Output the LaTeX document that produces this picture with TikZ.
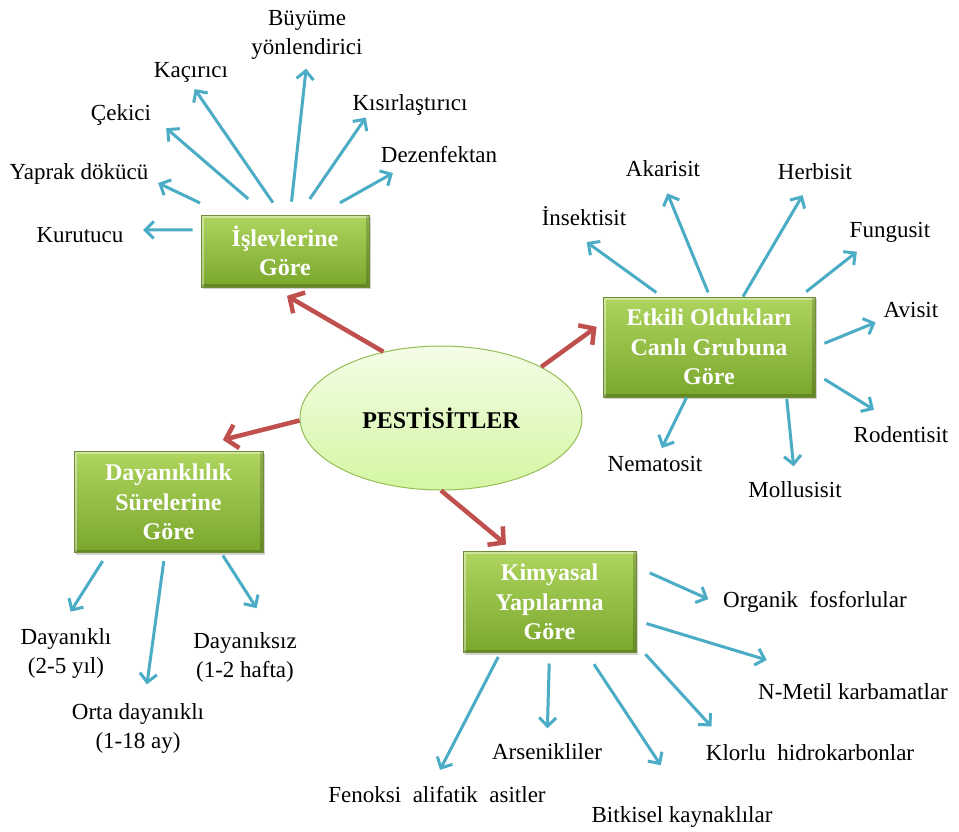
\documentclass[tikz,border=0pt]{standalone}
\usepackage{fontspec}
\setmainfont{Liberation Serif}
\usepackage{tikz}
\usetikzlibrary{
	arrows.meta,
	shapes.geometric,
	shadows,
	positioning
}
\definecolor{boxtop}{RGB}{174,213,94}
\definecolor{boxbot}{RGB}{122,166,44}
\definecolor{boxline}{RGB}{112,140,56}
\definecolor{elltop}{RGB}{244,253,232}
\definecolor{ellbot}{RGB}{212,246,162}
\definecolor{ellline}{RGB}{150,190,85}
\definecolor{bluearr}{RGB}{75,172,198}
\definecolor{redarr}{RGB}{192,80,77}

\tikzset{
	grp/.style={rectangle, draw=boxline, line width=0.8pt, top color=boxtop, bottom color=boxbot,
		text=white, font=\bfseries\fontsize{24}{29.5}\selectfont, align=center, inner sep=0pt,
		drop shadow={shadow xshift=1.5pt, shadow yshift=-2pt, opacity=0.35},
		path picture={
			\draw[white, opacity=0.4, line width=5pt] (path picture bounding box.south west)
				-- (path picture bounding box.north west) -- (path picture bounding box.north east);
			\draw[black, opacity=0.18, line width=6pt] (path picture bounding box.south west)
				-- (path picture bounding box.south east) -- (path picture bounding box.north east);
		}},
	lbl/.style={font=\fontsize{23}{28}\selectfont, inner sep=1pt, text height=16pt, text depth=5pt},
	lbltwo/.style={font=\fontsize{23}{29}\selectfont, inner sep=1pt, align=center},
	subarr/.style={color=bluearr, line width=3pt, -{Straight Barb[length=8.5pt,width=17pt]}},
	mainarr/.style={color=redarr, line width=4.5pt, -{Straight Barb[length=11pt,width=24pt]}}
}

\begin{document}
\begin{tikzpicture}[x=1pt, y=-1pt]
		\path[use as bounding box, fill=white] (0,0) rectangle (959,831);

		% ana kavram ve gruplar
		\node[ellipse, draw=ellline, line width=1pt, top color=elltop, bottom color=ellbot,
			minimum width=282pt, minimum height=144pt, inner sep=0pt,
			font=\bfseries\fontsize{24}{29}\selectfont] (pes) at (441,418) {PESTİSİTLER};
		\node[grp, minimum width=168pt, minimum height=72pt] (isl) at (285,251) {İşlevlerine\\Göre};
		\node[grp, minimum width=212pt, minimum height=100pt] (etk) at (709,347) {Etkili Oldukları\\Canlı Grubuna\\Göre};
		\node[grp, minimum width=189pt, minimum height=101pt] (day) at (168.5,502) {Dayanıklılık\\Sürelerine\\Göre};
		\node[grp, minimum width=173pt, minimum height=101pt] (kim) at (549.5,602) {Kimyasal\\Yapılarına\\Göre};

		% işlevlerine göre
		\node[lbl] (kur) at (80,237) {Kurutucu};
		\node[lbl] (yap) at (79,174) {Yaprak dökücü};
		\node[lbl] (cek) at (121,115) {Çekici};
		\node[lbl] (kac) at (191,72) {Kaçırıcı};
		\node[lbltwo] (buy) at (307,35) {Büyüme\\yönlendirici};
		\node[lbl] (kis) at (410,105) {Kısırlaştırıcı};
		\node[lbl] (dez) at (439,157) {Dezenfektan};

		% etkili oldukları canlı grubuna göre
		\node[lbl] (ins) at (584,220) {İnsektisit};
		\node[lbl] (aka) at (663,171) {Akarisit};
		\node[lbl] (her) at (815,174) {Herbisit};
		\node[lbl] (fun) at (890,232) {Fungusit};
		\node[lbl] (avi) at (911,312) {Avisit};
		\node[lbl] (rod) at (901,437) {Rodentisit};
		\node[lbl] (nem) at (655,466) {Nematosit};
		\node[lbl] (mol) at (795,492) {Mollusisit};

		% kimyasal yapılarına göre
		\node[lbl] (org) at (815,602) {Organik\ \ fosforlular};
		\node[lbl] (nme) at (853,694) {N-Metil karbamatlar};
		\node[lbl] (klo) at (810,755) {Klorlu\ \ hidrokarbonlar};
		\node[lbl] (fen) at (437,797) {Fenoksi\ \ alifatik\ \ asitler};
		\node[lbl] (ars) at (547,754) {Arsenikliler};
		\node[lbl] (bit) at (682,817) {Bitkisel kaynaklılar};

		% dayanıklılık sürelerine göre
		\node[lbltwo] (dy1) at (66,653) {Dayanıklı\\(2-5 yıl)};
		\node[lbltwo] (dy2) at (138,728) {Orta dayanıklı\\(1-18 ay)};
		\node[lbltwo] (dy3) at (245,657) {Dayanıksız\\(1-2 hafta)};

		\draw[mainarr, shorten >=16.8pt] (pes.131) -- (isl.251);
		\draw[mainarr, shorten >=7.4pt] (pes.27) -- (etk.167);
		\draw[mainarr, shorten >=45.8pt] (pes.181) -- (day.79);
		\draw[mainarr, shorten >=10.3pt] (pes.270) -- (kim.125);

		\draw[subarr, shorten <=8pt, shorten >=18.5pt] (isl.166) -- (kur.9);
		\draw[subarr, shorten <=27pt, shorten >=9.5pt] (isl.149) -- (yap.-4);
		\draw[subarr, shorten <=24pt, shorten >=18.5pt] (isl.117) -- (cek.-2);
		\draw[subarr, shorten <=14.5pt, shorten >=6.5pt] (isl.96) -- (kac.south);
		\draw[subarr, shorten <=13pt, shorten >=8pt] (isl.82) -- (buy.south);
		\draw[subarr, shorten <=19pt, shorten >=1pt] (isl.69) -- (kis.195);
		\draw[subarr, shorten <=24pt, shorten >=9pt] (isl.47) -- (dez.197);

		\draw[subarr, shorten <=7pt, shorten >=17.8pt] (etk.133) -- (ins.225);
		\draw[subarr, shorten <=4.6pt, shorten >=11.5pt] (etk.89) -- (aka.south);
		\draw[subarr, shorten >=11pt] (etk.56) -- (her.240);
		\draw[subarr, shorten <=8pt, shorten >=13pt] (etk.29) -- (fun.207);
		\draw[subarr, shorten <=9.7pt, shorten >=7.5pt] (etk.east) -- (avi.195);
		\draw[subarr, shorten <=10.6pt, shorten >=29.6pt] (etk.346) -- (rod.99);
		\draw[subarr, shorten >=7pt] (etk.246) -- (nem.72);
		\draw[subarr, shorten <=1.6pt, shorten >=14pt] (etk.327) -- (mol.north);

		\draw[subarr, shorten <=14.6pt, shorten >=15pt] (kim.22) -- (org.182);
		\draw[subarr, shorten <=10.5pt, shorten >=77pt] (kim.348) -- (nme.137);
		\draw[subarr, shorten <=13.4pt, shorten >=22.7pt] (kim.334) -- (klo.172);
		\draw[subarr, shorten <=4.5pt, shorten >=17.4pt] (kim.226) -- (fen.113);
		\draw[subarr, shorten <=10.6pt, shorten >=14pt] (kim.south) -- (ars.north);
		\draw[subarr, shorten <=13.6pt, shorten >=48pt] (kim.306) -- (bit.66);

		\draw[subarr, shorten <=9.7pt, shorten >=18pt] (day.220) -- (dy1.101);
		\draw[subarr, shorten <=8.2pt, shorten >=17.7pt] (day.266) -- (dy2.76);
		\draw[subarr, shorten <=3pt, shorten >=27pt] (day.316) -- (dy3.45);
	\end{tikzpicture}
\end{document}
